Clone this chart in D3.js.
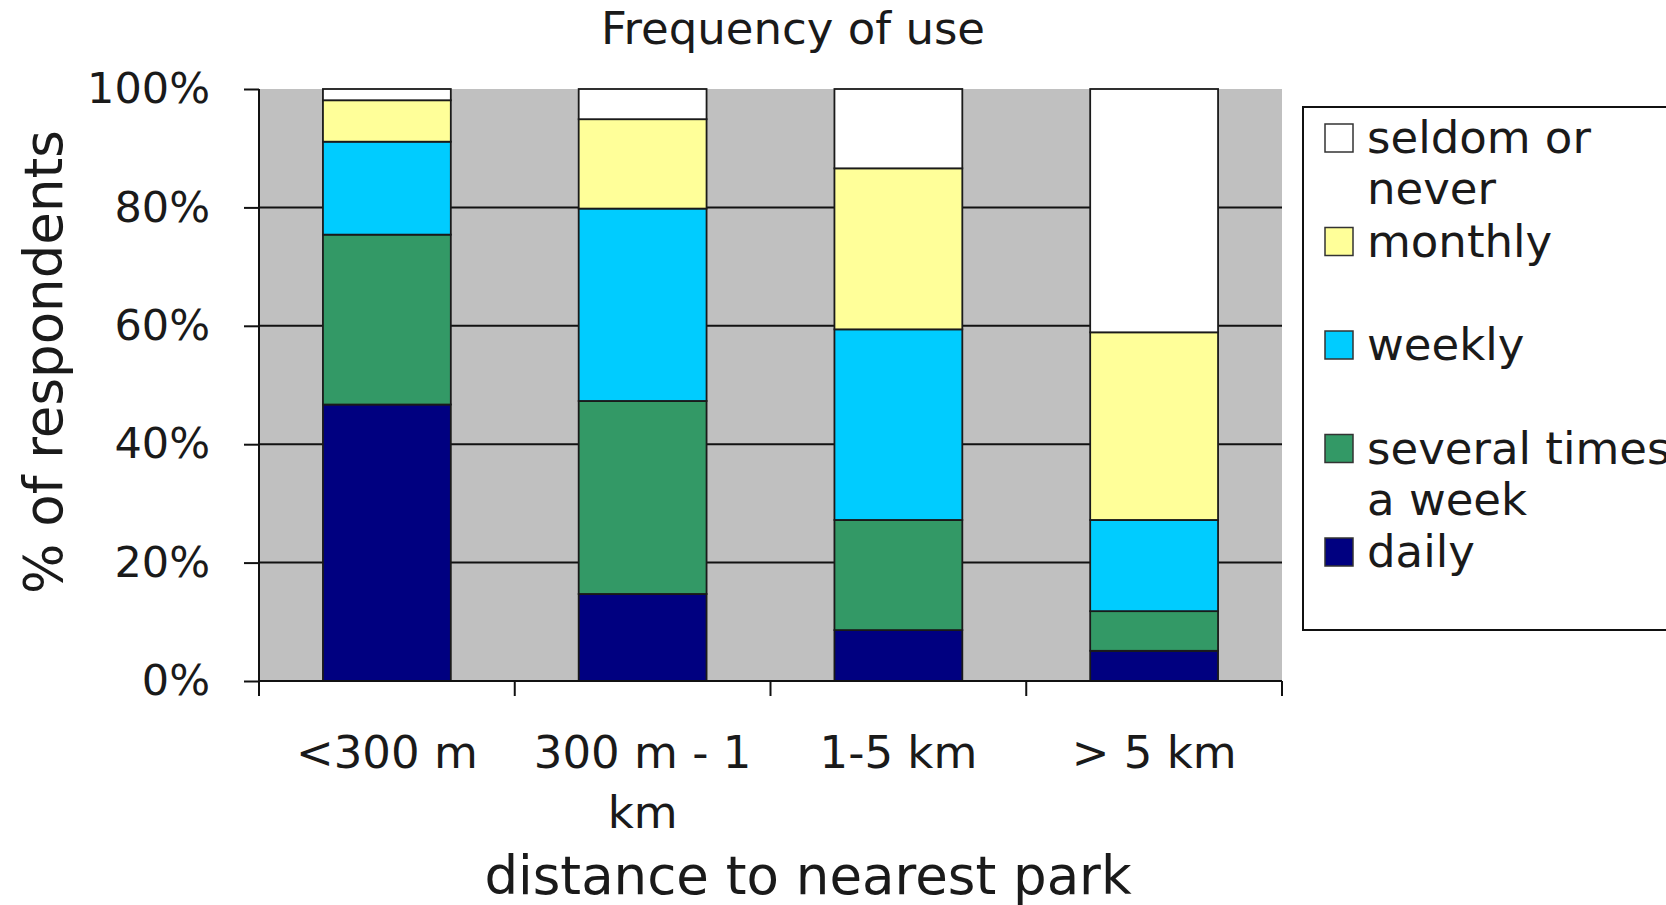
<!DOCTYPE html>
<html>
<head>
<meta charset="utf-8">
<script src="https://cdn.jsdelivr.net/npm/d3@7"></script>
<style>
    body { margin: 0; background: #fff; }
    text { font-family: "DejaVu Sans", Verdana, sans-serif; fill: #1a1a1a; }
</style>
</head>
<body>
<svg id="draw-area" width="1666" height="905"></svg>
<script>
// categorie e serie (valori in %)
const categories = ["<300 m", "300 m - 1 km", "1-5 km", "> 5 km"];
const series = ["daily", "several times a week", "weekly", "monthly", "seldom or never"];
const daily = [46.7, 14.7, 8.6, 5.1];
const several = [28.7, 32.6, 18.6, 6.7];
const weekly = [15.7, 32.5, 32.2, 15.4];
const monthly = [7.0, 15.1, 27.2, 31.7];
const seldom = [1.9, 5.1, 13.4, 41.1];
const yTicks = [0, 20, 40, 60, 80, 100];

const colors = ["#000080", "#339966", "#00ccff", "#ffff99", "#ffffff"];
const values = [daily, several, weekly, monthly, seldom];

const plot = { left: 259, right: 1282, top: 89, bottom: 681 };

let svg = d3.select("#draw-area");

let rows = categories.map((c, i) => {
    let r = { cat: c };
    series.forEach((s, j) => r[s] = values[j][i]);
    return r;
});

let stacked = d3.stack().keys(series)(rows);

let xScale = d3.scaleBand()
    .domain(categories)
    .range([plot.left, plot.right])
    .paddingInner(0.5)
    .paddingOuter(0.25);

let yScale = d3.scaleLinear()
    .domain([0, 100])
    .range([plot.bottom, plot.top]);

// sfondo grigio
svg.append("rect")
    .attr("x", plot.left)
    .attr("y", plot.top)
    .attr("width", plot.right - plot.left)
    .attr("height", plot.bottom - plot.top)
    .style("fill", "#c0c0c0");

// griglia
svg.append("g")
    .selectAll("line")
    .data(yTicks.filter(t => t > 0 && t < 100))
    .enter()
    .append("line")
    .attr("x1", plot.left)
    .attr("x2", plot.right)
    .attr("y1", d => yScale(d))
    .attr("y2", d => yScale(d))
    .style("stroke", "#111")
    .style("stroke-width", 2);

// barre
let layers = svg.append("g")
    .selectAll("g")
    .data(stacked)
    .enter()
    .append("g")
    .style("fill", (d, i) => colors[i]);

layers.selectAll("rect")
    .data(d => d)
    .enter()
    .append("rect")
    .attr("x", d => xScale(d.data.cat))
    .attr("width", xScale.bandwidth())
    .attr("y", d => yScale(d[1]))
    .attr("height", d => yScale(d[0]) - yScale(d[1]))
    .style("stroke", "#1a1a1a")
    .style("stroke-width", 1.8);

// asse y
let yAxis = d3.axisLeft(yScale)
    .tickValues(yTicks)
    .tickFormat(d => d + "%")
    .tickSize(15)
    .tickPadding(34);

let gy = svg.append("g")
    .attr("transform", `translate(${plot.left}, 0)`)
    .call(yAxis);
gy.select(".domain").remove();
gy.append("line")
    .attr("y1", plot.top)
    .attr("y2", plot.bottom)
    .style("stroke", "#111")
    .style("stroke-width", 2);
gy.selectAll(".tick line").style("stroke", "#111").style("stroke-width", 2);
gy.selectAll(".tick text")
    .style("font-size", "43px")
    .style("font-family", '"DejaVu Sans", Verdana, sans-serif')
    .style("fill", "#1a1a1a");

// asse x: tacche tra le categorie
let step = xScale.step();
let boundaries = d3.range(categories.length + 1).map(i => plot.left + i * step);

let gx = svg.append("g");
gx.append("line")
    .attr("x1", plot.left)
    .attr("x2", plot.right)
    .attr("y1", plot.bottom)
    .attr("y2", plot.bottom)
    .style("stroke", "#111")
    .style("stroke-width", 2);
gx.selectAll("line.tick")
    .data(boundaries)
    .enter()
    .append("line")
    .attr("class", "tick")
    .attr("x1", d => d)
    .attr("x2", d => d)
    .attr("y1", plot.bottom)
    .attr("y2", plot.bottom + 15)
    .style("stroke", "#111")
    .style("stroke-width", 2);

let catLabels = gx.selectAll("text")
    .data(categories)
    .enter()
    .append("text")
    .attr("x", d => xScale(d) + xScale.bandwidth() / 2)
    .attr("y", 768)
    .attr("text-anchor", "middle")
    .style("font-size", "45px")
    .text(d => d);
catLabels.each(function () { wrap(d3.select(this), step - 4, 60); });

// titoli
svg.append("text")
    .attr("x", 793)
    .attr("y", 44)
    .attr("text-anchor", "middle")
    .style("font-size", "45px")
    .text("Frequency of use");

svg.append("text")
    .attr("x", 808)
    .attr("y", 894)
    .attr("text-anchor", "middle")
    .style("font-size", "53px")
    .text("distance to nearest park");

svg.append("text")
    .attr("transform", "translate(62, 362) rotate(-90)")
    .attr("text-anchor", "middle")
    .style("font-size", "53px")
    .text("% of respondents");

// legenda
drawLegend();

function drawLegend() {
    let lg = svg.append("g");
    lg.append("rect")
        .attr("x", 1303)
        .attr("y", 107)
        .attr("width", 420)
        .attr("height", 523)
        .style("fill", "#fff")
        .style("stroke", "#111")
        .style("stroke-width", 2);

    let items = series.map((s, i) => ({ name: s, color: colors[i] })).reverse();
    let itemY = d3.scaleLinear().domain([0, items.length - 1]).range([138, 552]);

    let entries = lg.selectAll("g.entry")
        .data(items)
        .enter()
        .append("g")
        .attr("class", "entry")
        .attr("transform", (d, i) => `translate(1325, ${itemY(i)})`);

    entries.append("rect")
        .attr("x", 0)
        .attr("y", -14)
        .attr("width", 28)
        .attr("height", 28)
        .style("fill", d => d.color)
        .style("stroke", "#333")
        .style("stroke-width", 1.5);

    entries.append("text")
        .attr("x", 42)
        .attr("y", 15)
        .style("font-size", "45px")
        .text(d => d.name)
        .each(function () { wrap(d3.select(this), 318, 51); });
}

function wrap(text, width, lineHeight) {
    let words = text.text().split(/\s+/);
    let x = text.attr("x");
    let y = text.attr("y");
    text.text(null);
    let line = [];
    let n = 0;
    let tspan = text.append("tspan").attr("x", x).attr("y", y);
    words.forEach(w => {
        line.push(w);
        tspan.text(line.join(" "));
        if (tspan.node().getComputedTextLength() > width && line.length > 1) {
            line.pop();
            tspan.text(line.join(" "));
            line = [w];
            n++;
            tspan = text.append("tspan").attr("x", x).attr("y", +y + n * lineHeight).text(w);
        }
    });
}
</script>
</body>
</html>
